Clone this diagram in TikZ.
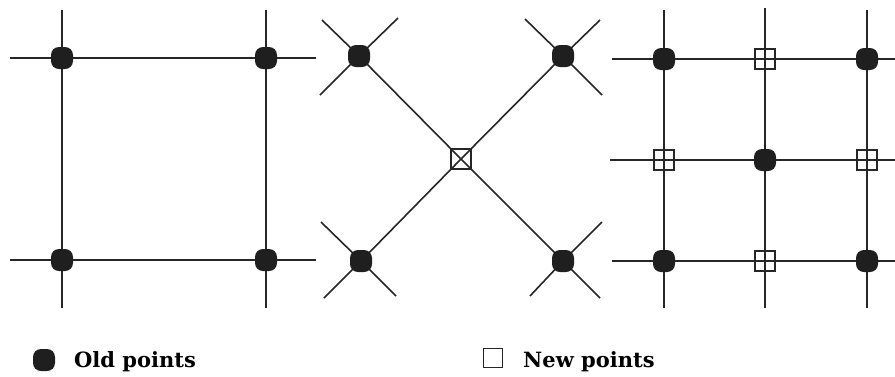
\documentclass[tikz,border=0pt]{standalone}
\usepackage{fontspec}
\newfontfamily\lgfont{DejaVu Serif}
\usetikzlibrary{backgrounds}
\begin{document}
\begin{tikzpicture}[x=1pt,y=-1pt,
  ln/.style={line width=1.6pt,draw=black!85},
  olddot/.style={rectangle,rounded corners=8pt,fill=black!88,minimum size=22pt,inner sep=0pt},
  newsq/.style={rectangle,draw=black!85,line width=1.4pt,minimum size=20pt,inner sep=0pt},
  lbl/.style={anchor=base west,font=\lgfont\fontsize{21}{24}\selectfont\bfseries,inner sep=0pt}]
\useasboundingbox (0,0) rectangle (895,376);
% left panel
\node[olddot] (a1) at (62,58) {};
\node[olddot] (a2) at (266,58) {};
\node[olddot] (a3) at (62,260) {};
\node[olddot] (a4) at (266,260) {};
\coordinate (a1t) at (62,10); \coordinate (a3b) at (62,308);
\coordinate (a2t) at (266,10); \coordinate (a4b) at (266,308);
\coordinate (a1l) at (10,58); \coordinate (a2r) at (316,58);
\coordinate (a3l) at (10,260); \coordinate (a4r) at (316,260);
% middle panel
\node[olddot] (b1) at (359,56) {};
\node[olddot] (b2) at (563,56) {};
\node[olddot] (b3) at (361,261) {};
\node[olddot] (b4) at (563,261) {};
\node[newsq] (c) at (461,159) {};
\coordinate (b1o) at (322,20); \coordinate (b4o) at (600,298);
\coordinate (b2o) at (600,20); \coordinate (b3o) at (324,298);
\coordinate (b1p) at (398,18); \coordinate (b1q) at (320,95);
\coordinate (b2p) at (525,19); \coordinate (b2q) at (602,95);
\coordinate (b3p) at (321,222); \coordinate (b3q) at (396,296);
\coordinate (b4p) at (602,222); \coordinate (b4q) at (530,296);
% right panel
\node[olddot] (d1) at (664,59) {};
\node[olddot] (d2) at (867,59) {};
\node[olddot] (d3) at (765,160) {};
\node[olddot] (d4) at (664,261) {};
\node[olddot] (d5) at (867,261) {};
\node[newsq] (s1) at (765,59) {};
\node[newsq] (s2) at (664,160) {};
\node[newsq] (s3) at (867,160) {};
\node[newsq] (s4) at (765,261) {};
\coordinate (v1t) at (664,10); \coordinate (v1b) at (664,308);
\coordinate (v2t) at (765,8); \coordinate (v2b) at (765,308);
\coordinate (v3t) at (867,10); \coordinate (v3b) at (867,308);
\coordinate (h1l) at (612,59); \coordinate (h1r) at (895,59);
\coordinate (h2l) at (610,160); \coordinate (h2r) at (895,160);
\coordinate (h3l) at (612,261); \coordinate (h3r) at (895,261);
\begin{scope}[on background layer]
\draw[ln] (a1t) -- (a1.center) -- (a3.center) -- (a3b);
\draw[ln] (a2t) -- (a2.center) -- (a4.center) -- (a4b);
\draw[ln] (a1l) -- (a1.center) -- (a2.center) -- (a2r);
\draw[ln] (a3l) -- (a3.center) -- (a4.center) -- (a4r);
\draw[ln] (b1o) -- (b1.center) -- (c.center) -- (b4.center) -- (b4o);
\draw[ln] (b2o) -- (b2.center) -- (c.center) -- (b3.center) -- (b3o);
\draw[ln] (b1p) -- (b1.center) -- (b1q);
\draw[ln] (b2p) -- (b2.center) -- (b2q);
\draw[ln] (b3p) -- (b3.center) -- (b3q);
\draw[ln] (b4p) -- (b4.center) -- (b4q);
\draw[ln] (v1t) -- (d1.center) -- (s2.center) -- (d4.center) -- (v1b);
\draw[ln] (v2t) -- (s1.center) -- (d3.center) -- (s4.center) -- (v2b);
\draw[ln] (v3t) -- (d2.center) -- (s3.center) -- (d5.center) -- (v3b);
\draw[ln] (h1l) -- (d1.center) -- (s1.center) -- (d2.center) -- (h1r);
\draw[ln] (h2l) -- (s2.center) -- (d3.center) -- (s3.center) -- (h2r);
\draw[ln] (h3l) -- (d4.center) -- (s4.center) -- (d5.center) -- (h3r);
\end{scope}
% legend
\node[olddot,rounded corners=8pt,minimum size=22pt] (lo) at (44,360) {};
\node[lbl] (lot) at (74,367) {Old points};
\node[newsq,line width=1.5pt,minimum size=19pt] (ln) at (493,358) {};
\node[lbl] (lnt) at (523,367) {New points};
\end{tikzpicture}
\end{document}
